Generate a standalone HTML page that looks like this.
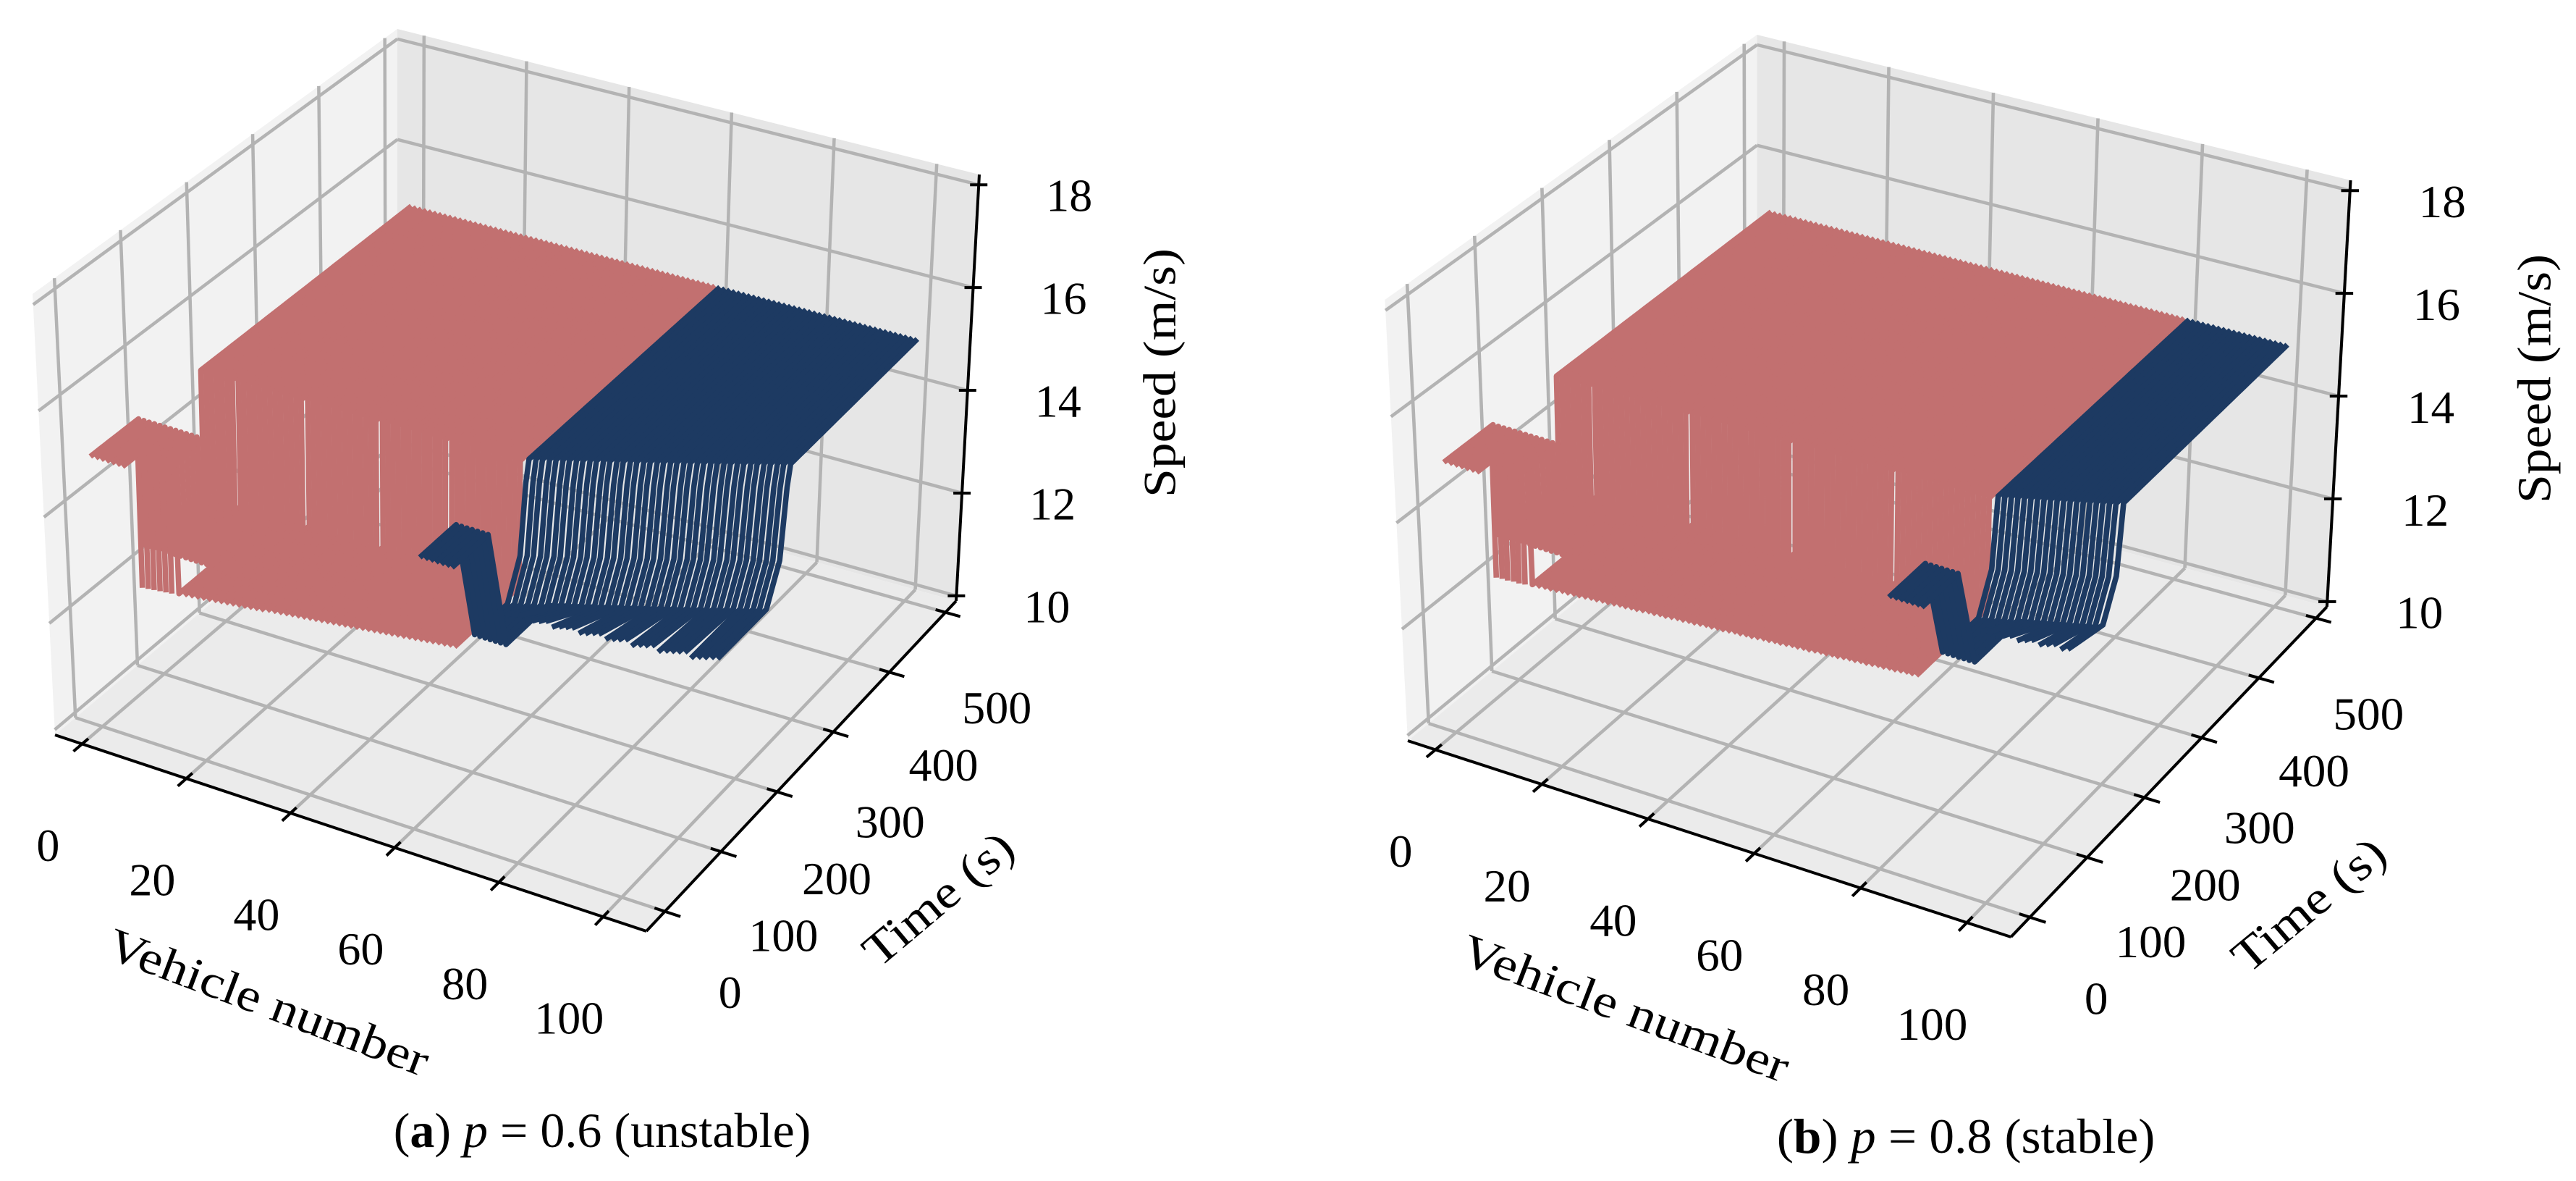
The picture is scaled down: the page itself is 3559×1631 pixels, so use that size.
<!DOCTYPE html>
<html><head><meta charset="utf-8"><style>
html,body{margin:0;padding:0;background:#fff;}
svg{display:block;}
text{font-family:"Liberation Serif",serif;fill:#000;}
</style></head>
<body>
<svg id="fig" width="3559" height="1631" viewBox="0 0 3559 1631" xmlns="http://www.w3.org/2000/svg">
<rect width="3559" height="1631" fill="#fff"/>
<g id="panelA"></g>
<g id="panelB" transform="translate(1945,1023) scale(1.02,1) translate(-76,-1015)"></g>
</svg>
<script>
// ---- axis ticks ----
const vehicleTicks = [0, 20, 40, 60, 80, 100];
const timeTicks = [0, 100, 200, 300, 400, 500];
const speedTicks = [10, 12, 14, 16, 18];

// ---- common profile values ----
const cruiseSpeed = 15;
const leadShelfEnd = 75;
const leadCount = 13;
const navyShelfCount = 7;
const navyShelfEnd = 65;
const navyDipReached = 95;

// ---- panel (a) p=0.6 ----
const cavStartA = 61;
const lowSpeedA = [
12.6,12.6,12.6,12.6,12.6,12.6,12.6,12.6,12.6,12.6,
12.6,12.6,12.6,12.6,12.6,12.6,12.6,12.6,12.6,12.6,
12.6,12.6,12.6,12.6,12.6,12.6,12.6,12.6,12.6,12.6,
12.6,12.6,12.6,12.6,12.6,12.6,12.6,12.6,12.6,12.6,
12.6,12.6,12.6,12.6,12.6,12.6,12.6,12.6,12.6,12.6,
12.6,12.6,12.6,12.6,12.6,12.6,12.6,12.6,12.6,12.6,
12.6,12.6,12.6,12.6,12.6,12.6,12.6,12.6,12.6,12.6,
12.6,12.6,12.6,12.6,12.6,12.6,12.6,12.6,12.6,12.6,
12.6,12.6,12.6,12.6,12.6,12.6,12.6,12.6,12.6,12.6,
12.6,12.6,12.6,12.6,12.6,12.6,12.6,12.6,12.6,12.6,
12.6];
const startTimeA = [
0,0,0,0,0,0,0,16,17,18,
19,20,21,22,23,24,25,26,27,28,
29,30,31,32,33,34,35,36,38,39,
40,41,42,43,44,45,46,47,48,49,
50,51,52,53,54,55,56,57,58,59,
60,61,62,63,64,65,66,67,68,69,
70,5,5,5,5,5,5,5,85,87,
90,92,95,97,100,102,105,107,109,112,
114,117,119,122,124,126,129,131,134,136,
139,141,144,146,148,151,153,156,158,161,
163];
const navyStartSpeedA = [
15,15,15,15,15,15,15,13.3,13.3,13.3,
13.2,13.2,13.2,13.2,13.1,13.1,13.1,13.1,13.0,13.0,
13.0,13.0,12.9,12.9,12.9,12.9,12.8,12.8,12.8,12.8,
12.7,12.7,12.7,12.7,12.7,12.6,12.6,12.6,12.6,12.6];
const recoverTimeA = [
171,171,171,171,171,171,171,172,172,172,
172,172,172,172,172,172,172,172,172,172,
174,174,174,174,174,174,174,174,174,174,
174,174,174,174,176,176,176,176,176,176,
176,176,176,176,176,176,176,178,178,178,
178,178,178,178,178,178,178,178,178,178,
178,185,188,190,193,195,198,200,203,205,
208,210,213,215,218,220,223,225,228,230,
233,235,238,240,243,245,248,250,253,255,
258,260,263,265,268,270,273,275,278,280,
283];

// ---- panel (b) p=0.8 ----
const cavStartB = 81;
const lowSpeedB = [
12.9,12.9,12.9,12.9,12.9,12.9,12.9,12.9,12.9,12.9,
12.9,12.9,12.9,12.9,12.9,12.9,12.9,12.9,12.9,12.9,
12.9,12.9,12.9,12.9,12.9,12.9,12.9,12.9,12.9,12.9,
12.9,12.9,12.9,12.9,12.9,12.9,12.9,12.9,12.9,12.9,
12.9,12.9,12.9,12.9,12.9,12.9,12.9,12.9,12.9,12.9,
12.9,12.9,12.9,12.9,12.9,12.9,12.9,12.9,12.9,12.9,
12.9,12.9,12.9,12.9,12.9,12.9,12.9,12.9,12.9,12.9,
12.9,12.9,12.9,12.9,12.9,12.9,12.9,12.9,12.9,12.9,
12.9,13.0,13.0,13.0,13.0,13.0,13.0,13.0,13.0,13.0,
13.0,13.0,13.0,13.0,13.0,13.0,13.0,13.0,13.0,13.0,
13.0];
const startTimeB = [
0,0,0,0,0,0,0,16,17,17,
18,18,19,20,20,21,21,22,23,23,
24,24,25,26,26,27,27,28,29,29,
30,30,31,32,32,33,33,34,35,35,
36,36,37,38,38,39,39,40,41,41,
42,42,43,44,44,45,45,46,47,47,
48,48,49,50,50,51,51,52,53,53,
54,54,55,56,56,57,57,58,59,59,
60,5,5,5,5,5,5,5,95,98,
102,105,108,112,115,118,122,125,128,132,
135];
const navyStartSpeedB = [
15,15,15,15,15,15,15,13.6,13.6,13.5,
13.5,13.5,13.4,13.4,13.4,13.3,13.3,13.3,13.2,13.2];
const recoverTimeB = [
171,171,171,171,171,171,171,172,172,172,
172,172,172,172,172,172,172,172,172,172,
172,172,172,172,172,174,174,174,174,174,
174,174,174,174,174,174,174,174,174,174,
174,174,174,174,176,176,176,176,176,176,
176,176,176,176,176,176,176,176,176,176,
176,176,176,178,178,178,178,178,178,178,
178,178,178,178,178,178,178,178,178,178,
178,190,192,194,196,198,200,202,204,206,
208,210,212,214,216,218,220,222,224,226,
230];

// ---- axes limits & projection ----
const V0 = -5.2, V1 = 108.3, T0 = -33, T1 = 519, Z0 = 9.9, Z1 = 18.2;
const K = {
  p000:[76,1015], p100:[893,1286], p110:[1321,830], p010:[549,616],
  p001:[45,406],  p101:[903,676],  p111:[1353,241], p011:[549,40]
};
function bil(q00,q10,q11,q01,a,b){
  const x = q00[0]*(1-a)*(1-b)+q10[0]*a*(1-b)+q11[0]*a*b+q01[0]*(1-a)*b;
  const y = q00[1]*(1-a)*(1-b)+q10[1]*a*(1-b)+q11[1]*a*b+q01[1]*(1-a)*b;
  return [x,y];
}
function proj(v,t,s){
  const a=(v-V0)/(V1-V0), b=(t-T0)/(T1-T0), c=(s-Z0)/(Z1-Z0);
  const lo=bil(K.p000,K.p100,K.p110,K.p010,a,b);
  const hi=bil(K.p001,K.p101,K.p111,K.p011,a,b);
  return [lo[0]*(1-c)+hi[0]*c, lo[1]*(1-c)+hi[1]*c];
}
const NS="http://www.w3.org/2000/svg";
function mk(tag, parent){const e=document.createElementNS(NS,tag);parent.appendChild(e);return e;}
function pts(arr){return arr.map(p=>p[0].toFixed(1)+","+p[1].toFixed(1)).join(" ");}

function profile(i, low, start, rec, cavStart, navyStart){
  const L=low[i], S=start[i], R=rec[i];
  const rise=[[R-35,L],[R-14,L+0.7],[R-5,L+2.0],[R,cruiseSpeed],[500,cruiseSpeed]];
  if(i>=cavStart && i<cavStart+navyShelfCount) return [[S,cruiseSpeed],[navyShelfEnd,cruiseSpeed],[navyDipReached,L]].concat(rise);
  if(i>=cavStart) return [[S,navyStart[i-cavStart]]].concat(rise);
  if(i<leadCount){
    const shelf=[[S,cruiseSpeed],[leadShelfEnd,cruiseSpeed],[leadShelfEnd+1,L],[R,L],[R+1,cruiseSpeed],[500,cruiseSpeed]];
    return S>0 ? [[S-1,L]].concat(shelf) : shelf;
  }
  if(i===leadCount) return [[S,cruiseSpeed],[S+1,L],[R,L],[R+1,cruiseSpeed],[500,cruiseSpeed]];
  return [[S,L],[R,L],[R+1,cruiseSpeed],[500,cruiseSpeed]];
}

function drawPanel(g, low, start, rec, cavStart, navyStart, letter, pval, stab){
  const left = mk('polygon', g);
  
  
  left.setAttribute('points', pts([proj(V0,T0,Z0),proj(V0,T1,Z0),proj(V0,T1,Z1),proj(V0,T0,Z1)]));
  left.setAttribute('fill','#f2f2f2');
  const back = mk('polygon', g);
  
  
  back.setAttribute('points', pts([proj(V0,T1,Z0),proj(V1,T1,Z0),proj(V1,T1,Z1),proj(V0,T1,Z1)]));
  back.setAttribute('fill','#e6e6e6');
  const floor = mk('polygon', g);
  
  
  floor.setAttribute('points', pts([proj(V0,T0,Z0),proj(V1,T0,Z0),proj(V1,T1,Z0),proj(V0,T1,Z0)]));
  floor.setAttribute('fill','#ebebeb');

  const grid = mk('g', g);
  
  
  grid.setAttribute('stroke','#b3b3b3'); grid.setAttribute('stroke-width','4.5'); grid.setAttribute('fill','none');
  function gl(a,b){const l=mk('line',grid);l.setAttribute('x1',a[0]);l.setAttribute('y1',a[1]);l.setAttribute('x2',b[0]);l.setAttribute('y2',b[1]);}
  vehicleTicks.forEach(v=>{gl(proj(v,T0,Z0),proj(v,T1,Z0)); gl(proj(v,T1,Z0),proj(v,T1,Z1));});
  timeTicks.forEach(t=>{gl(proj(V0,t,Z0),proj(V1,t,Z0)); gl(proj(V0,t,Z0),proj(V0,t,Z1));});
  speedTicks.forEach(s=>{gl(proj(V0,T0,s),proj(V0,T1,s)); gl(proj(V0,T1,s),proj(V1,T1,s));});

  const surf = mk('g', g);
  
  
  for(let i=0;i<low.length;i++){
    const prof = profile(i, low, start, rec, cavStart, navyStart);
    const p=[];
    for(let k=0;k<prof.length-1;k++){
      const [ta,sa]=prof[k],[tb,sb]=prof[k+1];
      const n=Math.max(1,Math.ceil((tb-ta)/8));
      for(let j=0;j<n;j++){const f=j/n;p.push(proj(i,ta+(tb-ta)*f,sa+(sb-sa)*f));}
    }
    const last=prof[prof.length-1]; p.push(proj(i,last[0],last[1]));
    const pl = mk('polyline', surf);
    
    
    pl.setAttribute('points', pts(p));
    pl.setAttribute('fill','none');
    pl.setAttribute('stroke', i>=cavStart ? '#1d3a62' : '#c27070');
    pl.setAttribute('stroke-width','7.5');
    pl.setAttribute('stroke-linejoin','round');
  }

  const ax = mk('g', g);
  
  
  ax.setAttribute('stroke','#000'); ax.setAttribute('stroke-width','4');
  function al(a,b,name){const l=mk('line',ax);l.setAttribute('x1',a[0]);l.setAttribute('y1',a[1]);l.setAttribute('x2',b[0]);l.setAttribute('y2',b[1]);}
  al(proj(V0,T0,Z0),proj(V1,T0,Z0),'x-axis-line');
  al(proj(V1,T0,Z0),proj(V1,T1,Z0),'time-axis-line');
  al(proj(V1,T1,Z0),proj(V1,T1,Z1),'speed-axis-line');
  vehicleTicks.forEach(v=>al(proj(v,T0-14,Z0),proj(v,T0+10,Z0),'x-tick'));
  timeTicks.forEach(t=>al(proj(V1-2,t,Z0),proj(V1+3,t,Z0),'time-tick'));
  speedTicks.forEach(s=>{const q=proj(V1,T1,s);al([q[0]-12,q[1]],[q[0]+12,q[1]],'speed-tick');});

  function tx(str,x,y,name,extra){const e=mk('text',g);e.setAttribute('x',x);e.setAttribute('y',y);e.setAttribute('font-size','64');e.setAttribute('text-anchor','middle');e.setAttribute('dominant-baseline','central');if(extra)for(const k in extra)e.setAttribute(k,extra[k]);e.textContent=str;return e;}
  vehicleTicks.forEach(v=>{const q=proj(v,T0,Z0);tx(String(v),q[0]-47,q[1]+140,'x-tick-label');});
  timeTicks.forEach(t=>{const q=proj(V1,t,Z0);const f=t/500;tx(String(t),q[0]+90-19*f,q[1]+112+20*f,'time-tick-label');});
  speedTicks.forEach(s=>{const q=proj(V1,T1,s);tx(String(s),q[0]+125,q[1]+15,'speed-tick-label');});
  tx('Vehicle number',371,1384,'x-axis-title',{transform:'rotate(20.7 371 1384)',textLength:'469',lengthAdjust:'spacingAndGlyphs'});
  tx('Time (s)',1296,1241,'time-axis-title',{transform:'rotate(-40 1296 1241)',textLength:'250',lengthAdjust:'spacingAndGlyphs'});
  tx('Speed (m/s)',1602,515,'speed-axis-title',{transform:'rotate(-90 1602 515)',textLength:'344',lengthAdjust:'spacingAndGlyphs'});

  const c = mk('text', g);
  
  
  c.setAttribute('x','832'); c.setAttribute('y','1561');
  c.setAttribute('font-size','68'); c.setAttribute('text-anchor','middle'); c.setAttribute('dominant-baseline','central');
  c.setAttribute('xml:space','preserve');
  c.innerHTML = '(<tspan font-weight="bold">'+letter+'</tspan>)  <tspan font-style="italic">p</tspan> = '+pval+'  ('+stab+')';
}

drawPanel(document.getElementById('panelA'), lowSpeedA, startTimeA, recoverTimeA, cavStartA, navyStartSpeedA, 'a', '0.6', 'unstable');
drawPanel(document.getElementById('panelB'), lowSpeedB, startTimeB, recoverTimeB, cavStartB, navyStartSpeedB, 'b', '0.8', 'stable');
</script>
</body></html>
